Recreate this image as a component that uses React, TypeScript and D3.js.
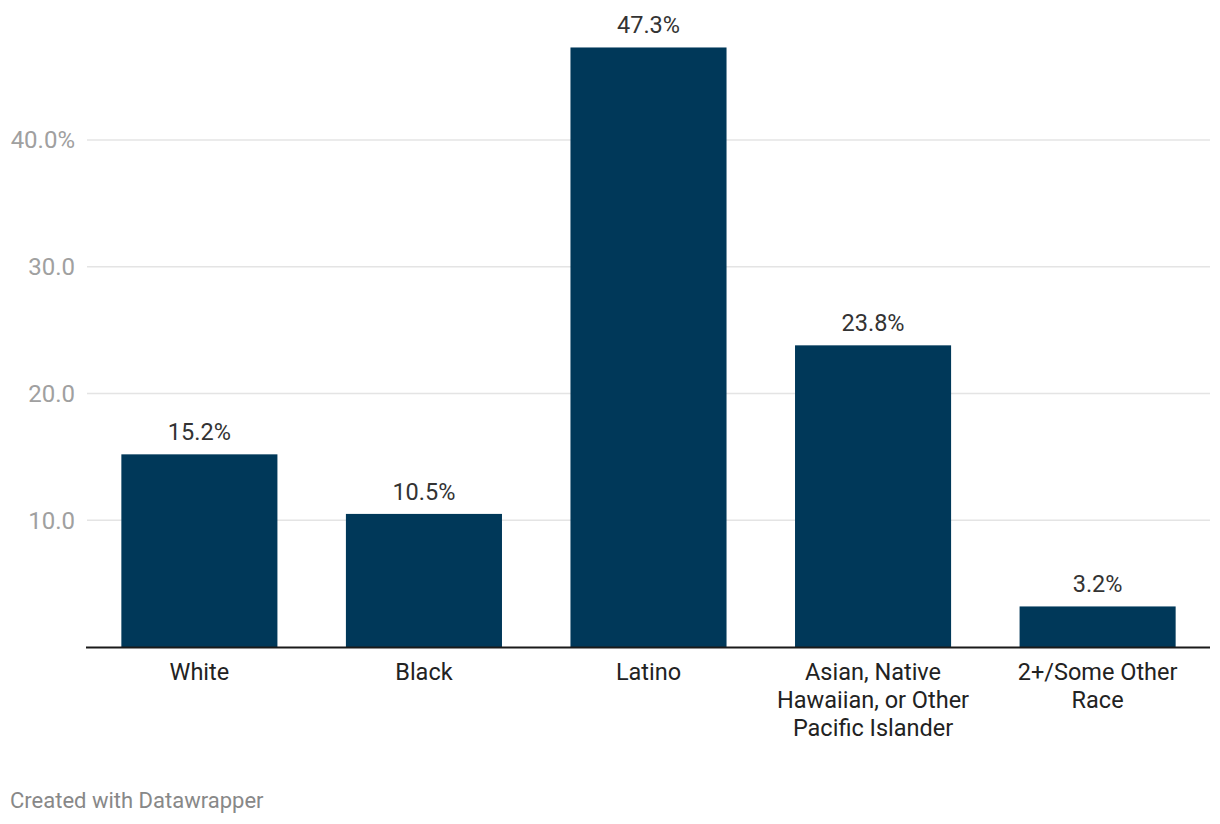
import React from "react";
import * as d3 from "d3";

const categories: string[][] = [
  ["White"],
  ["Black"],
  ["Latino"],
  ["Asian, Native", "Hawaiian, or Other", "Pacific Islander"],
  ["2+/Some Other", "Race"],
];
const values: number[] = [15.2, 10.5, 47.3, 23.8, 3.2];
const yTicks: number[] = [10, 20, 30, 40];
const yTickLabels: string[] = ["10.0", "20.0", "30.0", "40.0%"];

const W = 1220;
const H = 824;
const FONT = "Roboto, 'Noto Sans', sans-serif";

export default function App() {
  const x = d3
    .scaleBand<number>()
    .domain(values.map((_, i) => i))
    .range([87, 1210])
    .paddingInner(0.305)
    .paddingOuter(0.153);
  const y = d3.scaleLinear().domain([0, 40]).range([647, 140]);

  return (
    <svg
      width={W}
      height={H}
      style={{ position: "absolute", left: 0, top: 0, background: "#fff" }}
      fontFamily={FONT}
    >
      {yTicks.map((t, i) => (
        <g key={t}>
          <line x1={87} x2={1210} y1={y(t)} y2={y(t)} stroke="#e4e4e4" strokeWidth={1.5} />
          <text
            x={75}
            y={y(t)}
            dy="0.35em"
            textAnchor="end"
            fontSize={24}
            fill="#a0a0a0"
          >
            {yTickLabels[i]}
          </text>
        </g>
      ))}
      {values.map((v, i) => (
        <g key={i}>
          <rect
            x={x(i)}
            y={y(v)}
            width={x.bandwidth()}
            height={y(0) - y(v)}
            fill="#003859"
          />
          <text
            x={(x(i) as number) + x.bandwidth() / 2}
            y={y(v) - 14}
            textAnchor="middle"
            fontSize={23.5}
            fill="#333"
          >
            {v.toFixed(1)}%
          </text>
          {categories[i].map((line, j) => (
            <text
              key={j}
              x={(x(i) as number) + x.bandwidth() / 2}
              y={680 + j * 28}
              textAnchor="middle"
              fontSize={23.5}
              fill="#222"
            >
              {line}
            </text>
          ))}
        </g>
      ))}
      <line x1={86} x2={1210} y1={647.5} y2={647.5} stroke="#1a1a1a" strokeWidth={2} />
      <text x={10} y={808} fontSize={22} fill="#888">
        Created with Datawrapper
      </text>
    </svg>
  );
}
